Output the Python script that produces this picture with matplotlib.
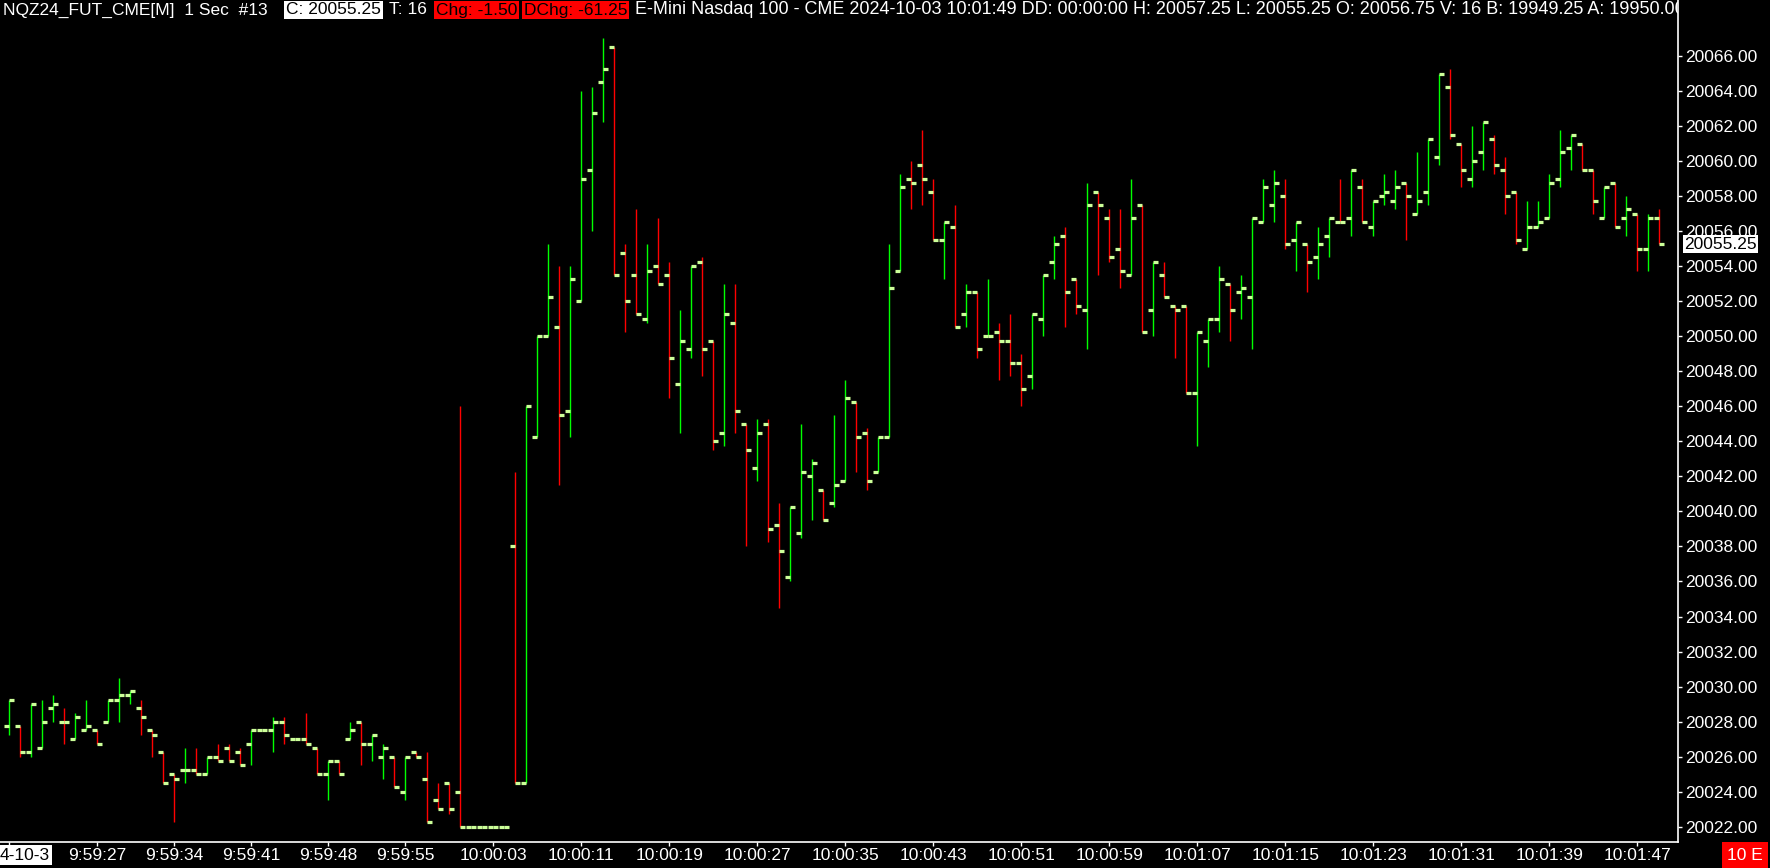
import matplotlib
matplotlib.use("Agg")
import matplotlib.pyplot as plt
from matplotlib import font_manager
import numpy as np

plt.rcParams['font.family'] = ['Liberation Sans', 'DejaVu Sans']

# 1 second OHLC bars, NQZ24 2024-10-03 09:59:19 .. 10:01:49
opens = [20027.75, 20027.75, 20026.25, 20026.50, 20028.75, 20028.00, 20027.00, 20027.50, 20027.50, 20028.00,
         20029.25, 20029.50, 20028.75, 20027.50, 20026.25, 20025.00, 20025.25, 20025.25, 20025.00, 20026.00,
         20026.50, 20026.25, 20026.75, 20027.50, 20027.50, 20028.00, 20027.00, 20027.00, 20026.50, 20025.00,
         20025.75, 20027.00, 20028.00, 20026.75, 20026.00, 20026.00, 20024.00, 20026.25, 20024.75, 20023.50,
         20024.50, 20024.00, 20022.00, 20022.00, 20022.00, 20022.00, 20038.00, 20024.50, 20044.25, 20050.00,
         20050.50, 20045.75, 20052.00, 20059.50, 20064.50, 20066.50, 20054.75, 20053.50, 20051.00, 20054.00,
         20053.50, 20047.25, 20049.25, 20054.25, 20049.75, 20044.50, 20050.75, 20045.00, 20042.50, 20045.00,
         20039.25, 20036.25, 20038.75, 20042.00, 20041.25, 20040.50, 20041.75, 20046.25, 20044.50, 20042.25,
         20044.25, 20053.75, 20059.00, 20059.75, 20058.25, 20055.50, 20056.25, 20051.25, 20052.50, 20050.00,
         20050.25, 20049.75, 20048.50, 20047.75, 20051.00, 20054.25, 20055.75, 20053.25, 20051.50, 20058.25,
         20056.75, 20055.00, 20053.50, 20057.50, 20051.50, 20053.50, 20051.75, 20051.75, 20046.75, 20049.75,
         20051.00, 20053.00, 20052.50, 20052.25, 20056.50, 20057.50, 20058.00, 20055.50, 20055.25, 20054.50,
         20055.75, 20056.50, 20056.75, 20058.50, 20056.25, 20058.00, 20057.75, 20058.75, 20057.00, 20058.25,
         20060.25, 20064.25, 20061.00, 20059.00, 20060.50, 20061.25, 20059.50, 20058.25, 20055.00, 20056.25,
         20056.75, 20059.00, 20060.75, 20061.00, 20059.50, 20056.75, 20058.75, 20056.75, 20057.00, 20055.00,
         20056.75]
highs = [20029.25, 20027.75, 20029.00, 20029.25, 20029.50, 20028.75, 20028.50, 20029.25, 20027.50, 20029.25,
         20030.50, 20029.75, 20029.25, 20027.50, 20026.25, 20025.00, 20026.50, 20026.50, 20026.00, 20026.75,
         20026.75, 20026.50, 20027.50, 20027.50, 20028.25, 20028.25, 20027.00, 20028.50, 20026.50, 20025.75,
         20025.75, 20028.00, 20028.00, 20027.25, 20026.75, 20026.00, 20026.00, 20026.25, 20026.25, 20024.50,
         20024.50, 20046.00, 20022.00, 20022.00, 20022.00, 20022.00, 20042.25, 20046.00, 20050.00, 20055.25,
         20054.00, 20054.00, 20064.00, 20064.25, 20067.00, 20066.50, 20055.25, 20057.25, 20055.25, 20056.75,
         20054.25, 20051.50, 20054.00, 20054.50, 20049.75, 20053.00, 20053.00, 20045.00, 20045.25, 20045.25,
         20040.50, 20040.25, 20045.00, 20043.00, 20041.25, 20045.50, 20047.50, 20046.25, 20044.75, 20044.25,
         20055.25, 20059.25, 20060.00, 20061.75, 20059.00, 20056.50, 20057.50, 20053.00, 20052.50, 20053.25,
         20050.75, 20051.25, 20049.00, 20051.25, 20053.50, 20055.75, 20056.25, 20053.25, 20058.75, 20058.25,
         20057.25, 20057.25, 20059.00, 20057.50, 20054.25, 20054.25, 20051.75, 20051.75, 20050.25, 20051.00,
         20054.00, 20053.00, 20053.50, 20056.75, 20059.00, 20059.50, 20059.00, 20056.50, 20055.25, 20056.25,
         20056.75, 20059.00, 20059.50, 20059.00, 20057.75, 20059.25, 20059.50, 20058.75, 20060.50, 20061.25,
         20065.00, 20065.25, 20061.00, 20062.00, 20062.25, 20061.50, 20060.25, 20058.25, 20057.75, 20057.75,
         20059.25, 20061.75, 20061.50, 20061.00, 20059.50, 20058.50, 20058.75, 20058.00, 20057.00, 20057.00,
         20057.25]
lows = [20027.25, 20026.00, 20026.00, 20026.50, 20028.00, 20026.75, 20027.00, 20027.50, 20026.75, 20028.00,
        20028.00, 20029.00, 20027.25, 20026.00, 20024.50, 20022.25, 20024.50, 20025.00, 20025.00, 20025.75,
        20025.75, 20025.50, 20025.50, 20027.50, 20026.25, 20026.75, 20027.00, 20026.75, 20025.00, 20023.50,
        20025.00, 20027.00, 20025.50, 20025.75, 20024.75, 20024.25, 20023.50, 20026.00, 20022.25, 20023.00,
        20022.75, 20022.00, 20022.00, 20022.00, 20022.00, 20022.00, 20024.50, 20024.50, 20044.25, 20050.00,
        20041.50, 20044.25, 20052.00, 20056.00, 20062.25, 20053.50, 20050.25, 20051.25, 20050.75, 20053.00,
        20046.50, 20044.50, 20048.75, 20047.75, 20043.50, 20043.75, 20044.50, 20038.00, 20041.75, 20038.25,
        20034.50, 20036.00, 20038.50, 20039.50, 20039.50, 20040.25, 20041.75, 20042.25, 20041.25, 20042.25,
        20044.25, 20053.75, 20057.25, 20057.50, 20055.50, 20053.25, 20050.50, 20050.50, 20048.75, 20050.00,
        20047.50, 20047.75, 20046.00, 20047.00, 20050.00, 20053.25, 20050.50, 20051.25, 20049.25, 20053.50,
        20054.25, 20052.75, 20053.50, 20050.25, 20050.00, 20052.25, 20048.75, 20046.75, 20043.75, 20048.25,
        20050.25, 20049.75, 20051.00, 20049.25, 20056.50, 20056.50, 20055.00, 20053.75, 20052.50, 20053.25,
        20054.50, 20056.50, 20055.75, 20056.50, 20055.75, 20057.50, 20057.25, 20055.50, 20057.00, 20057.50,
        20059.75, 20061.25, 20058.50, 20058.50, 20059.50, 20059.25, 20057.00, 20055.25, 20055.00, 20056.25,
        20056.75, 20058.50, 20059.50, 20059.50, 20057.00, 20056.75, 20056.25, 20055.75, 20053.75, 20053.75,
        20055.25]
closes = [20029.25, 20026.25, 20029.00, 20028.00, 20029.00, 20028.00, 20028.25, 20027.75, 20026.75, 20029.25,
          20029.50, 20029.75, 20028.25, 20027.25, 20024.50, 20024.75, 20025.25, 20025.00, 20026.00, 20025.75,
          20025.75, 20025.50, 20027.50, 20027.50, 20028.00, 20027.25, 20027.00, 20026.75, 20025.00, 20025.75,
          20025.00, 20027.50, 20026.75, 20027.25, 20026.50, 20024.25, 20026.00, 20026.00, 20022.25, 20023.00,
          20023.00, 20022.00, 20022.00, 20022.00, 20022.00, 20022.00, 20024.50, 20046.00, 20050.00, 20052.25,
          20045.50, 20053.25, 20059.00, 20062.75, 20065.25, 20053.50, 20052.00, 20051.25, 20053.75, 20053.00,
          20048.75, 20049.75, 20054.00, 20049.25, 20044.00, 20051.25, 20045.75, 20043.50, 20044.50, 20039.00,
          20037.75, 20040.25, 20042.25, 20042.75, 20039.50, 20041.50, 20046.50, 20044.25, 20041.75, 20044.25,
          20052.75, 20058.50, 20058.75, 20059.00, 20055.50, 20056.50, 20050.50, 20052.50, 20049.25, 20050.00,
          20049.75, 20048.50, 20047.00, 20051.25, 20053.50, 20055.25, 20052.50, 20051.75, 20057.50, 20057.50,
          20054.50, 20053.75, 20056.75, 20050.25, 20054.25, 20052.25, 20051.50, 20046.75, 20050.25, 20051.00,
          20053.25, 20051.50, 20052.75, 20056.75, 20058.50, 20058.75, 20055.25, 20056.50, 20054.25, 20055.25,
          20056.75, 20056.50, 20059.50, 20056.50, 20057.75, 20058.25, 20058.50, 20058.00, 20057.75, 20061.25,
          20065.00, 20061.50, 20059.50, 20060.00, 20062.25, 20059.75, 20058.00, 20055.50, 20056.25, 20056.50,
          20058.75, 20060.50, 20061.50, 20059.50, 20057.75, 20058.50, 20056.25, 20057.25, 20055.00, 20056.75,
          20055.25]

time_tick_bars = [8, 15, 22, 29, 36, 44, 52, 60, 68, 76, 84, 92, 100, 108, 116, 124, 132, 140, 148]
time_tick_labels = ["9:59:27", "9:59:34", "9:59:41", "9:59:48", "9:59:55", "10:00:03", "10:00:11",
                    "10:00:19", "10:00:27", "10:00:35", "10:00:43", "10:00:51", "10:00:59", "10:01:07",
                    "10:01:15", "10:01:23", "10:01:31", "10:01:39", "10:01:47"]
price_ticks = list(range(20022, 20067, 2))
last_price = 20055.25

UP = "#00ff00"
DOWN = "#ff0000"
TICK = "#ccff99"

# narrow font for the header if one is installed
names = {f.name for f in font_manager.fontManager.ttflist}
if "Liberation Sans Narrow" in names:
    HFONT, HSIZE = ["Liberation Sans Narrow", "DejaVu Sans"], 14.5
else:
    HFONT, HSIZE = ["Liberation Sans", "DejaVu Sans"], 12.5

W, H = 1770, 868
fig = plt.figure(figsize=(W / 100, H / 100), dpi=100, facecolor="black")
ax = fig.add_axes([0, 26 / H, 1678 / W, 842 / H], facecolor="black")

n = len(closes)
idx = np.arange(n)
colors = []
for i in range(n):
    if closes[i] > opens[i]:
        colors.append(UP)
    elif closes[i] < opens[i]:
        colors.append(DOWN)
    else:
        prev = closes[i - 1] if i > 0 else closes[i]
        colors.append(DOWN if closes[i] < prev else UP)

lw_bar = 1.4 * 0.72
lw_tick = 3.2 * 0.72
ax.vlines(idx, lows, highs, colors=colors, linewidth=lw_bar, capstyle="butt", zorder=2)
ax.hlines(opens, idx - 0.45, idx, colors=TICK, linewidth=lw_tick, capstyle="butt", zorder=3)
ax.hlines(closes, idx, idx + 0.45, colors=TICK, linewidth=lw_tick, capstyle="butt", zorder=3)

ax.set_xlim(-0.845, 151.7)
ax.set_ylim(20066 - 786 / 17.516, 20066 + 56 / 17.516)

for s in ["left", "top"]:
    ax.spines[s].set_visible(False)
for s in ["right", "bottom"]:
    ax.spines[s].set_color("white")
    ax.spines[s].set_linewidth(1.2)

ax.yaxis.tick_right()
ax.set_yticks(price_ticks)
ax.set_yticklabels([f"{p:.2f}" for p in price_ticks])
ax.tick_params(axis="y", colors="white", labelcolor="white", labelsize=12.5, length=3, width=1, pad=2)

ax.set_xticks([0] + time_tick_bars)
ax.set_xticklabels([""] + time_tick_labels)
ax.tick_params(axis="x", colors="white", labelcolor="white", labelsize=12.5, length=3, width=1, pad=1)

# current price marker on the scale
ax.text(1.0 + 6 / 1678, last_price, f"{last_price:.2f}", transform=ax.get_yaxis_transform(),
        ha="left", va="center", fontsize=12.5, color="black", clip_on=False, zorder=10,
        bbox=dict(boxstyle="square,pad=0.08", fc="white", ec="none"))

# bottom corner labels
fig.text(0, 13 / H, "4-10-3", ha="left", va="center", fontsize=12.5, color="black",
         bbox=dict(boxstyle="square,pad=0.12", fc="white", ec="none"))
fig.text(1745 / W, 13 / H, "10 E", ha="center", va="center", fontsize=12.5, color="white",
         bbox=dict(boxstyle="square,pad=0.3", fc="#ff0000", ec="none"))

# header line (lives inside the chart region, clipped at the price scale)
hy = 1 - 10 / H
kw = dict(ha="left", va="center", fontsize=HSIZE, family=HFONT, transform=fig.transFigure)
ax.text(3 / W, hy, "NQZ24_FUT_CME[M]  1 Sec  #13", color="white", **kw)
ax.text(286 / W, hy, "C: 20055.25", color="black",
        bbox=dict(boxstyle="square,pad=0.1", fc="white", ec="none"), **kw)
ax.text(389 / W, hy, "T: 16", color="white", **kw)
ax.text(436 / W, hy, "Chg: -1.50", color="black",
        bbox=dict(boxstyle="square,pad=0.1", fc="#ff0000", ec="none"), **kw)
ax.text(524 / W, hy, "DChg: -61.25", color="black",
        bbox=dict(boxstyle="square,pad=0.1", fc="#ff0000", ec="none"), **kw)
kw["fontsize"] = HSIZE * 1.035
info = ax.text(635 / W, hy, "E-Mini Nasdaq 100 - CME 2024-10-03 10:01:49 DD: 00:00:00 H: 20057.25 "
               "L: 20055.25 O: 20056.75 V: 16 B: 19949.25 A: 19950.00", color="white", **kw)
info.set_clip_on(True)
info.set_clip_box(ax.bbox)

fig.savefig("out.png", dpi=100, facecolor="black")
